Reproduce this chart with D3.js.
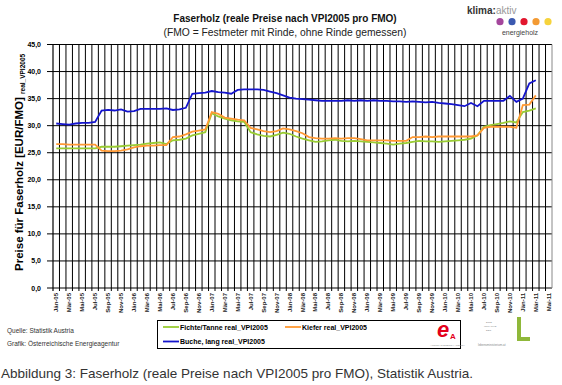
<html>
<head>
    <meta charset="utf-8">
    <title>Faserholz</title>
    <script src="https://d3js.org/d3.v7.min.js"></script>
    <style>
        body { margin: 0; background: #fff; }
        text { font-family: "Liberation Sans", Arial, sans-serif; }
    </style>
</head>
<body>
    <svg id="chart" width="562" height="385"></svg>

    <script>
        // monthly categories Jan-05 .. Mai-11 (axis), data runs to Mär-11
        var monthNames = ["Jän","Feb","Mär","Apr","Mai","Jun","Jul","Aug","Sep","Okt","Nov","Dez"];
        var years = ["05","06","07","08","09","10","11"];
        var lastMonthOnAxis = 4; // Mai-11
        var yTicks = [0, 5, 10, 15, 20, 25, 30, 35, 40, 45];

        // EUR/FMO real_VPI2005, Jan-05 .. Mär-11
        var fichte = [25.8,25.8,25.8,25.8,25.8,25.8,25.8,26.1,26.1,26.1,26.2,26.3,
                      26.4,26.5,26.7,26.8,26.9,26.6,27.3,27.4,27.6,28.2,28.5,28.8,
                      32.3,31.7,31.3,31.0,30.8,30.7,28.8,28.4,28.1,28.0,28.3,28.7,
                      28.5,28.0,27.6,27.3,27.0,27.1,27.3,27.4,27.2,27.1,27.2,27.1,
                      27.0,26.9,26.8,26.7,26.5,26.7,26.8,27.0,27.2,27.1,27.1,27.0,
                      27.1,27.2,27.3,27.4,27.6,28.2,29.8,30.1,30.3,30.5,30.8,30.6,
                      32.5,32.8,33.2];
        var kiefer = [26.6,26.6,26.5,26.5,26.5,26.5,26.5,25.4,25.3,25.3,25.4,25.6,
                      26.0,26.2,26.3,26.3,26.4,26.4,27.9,28.0,28.4,28.9,29.1,29.3,
                      32.5,32.2,31.5,31.3,31.1,31.0,29.6,29.3,29.0,28.8,29.0,29.5,
                      29.3,29.0,28.6,27.9,27.7,27.6,27.6,27.7,27.6,27.7,27.7,27.5,
                      27.3,27.3,27.3,27.3,27.2,27.2,27.2,27.9,27.9,28.0,27.9,28.0,
                      28.0,28.0,28.0,28.0,28.0,28.2,29.6,29.8,29.8,29.8,29.8,29.6,
                      33.8,33.9,35.6];
        var buche = [30.4,30.3,30.2,30.4,30.5,30.5,30.7,32.8,32.9,32.8,33.0,32.6,
                     32.7,33.1,33.1,33.1,33.1,33.2,32.9,33.0,33.3,35.9,36.0,36.1,
                     36.4,36.2,36.1,35.9,36.6,36.7,36.7,36.7,36.6,36.3,36.0,35.6,
                     35.2,35.0,34.9,34.8,34.7,34.6,34.6,34.6,34.6,34.7,34.6,34.7,
                     34.6,34.7,34.6,34.6,34.5,34.5,34.4,34.5,34.4,34.3,34.4,34.2,
                     34.1,34.0,33.8,33.6,34.2,33.6,34.6,34.6,34.6,34.6,35.5,34.4,
                     35.0,37.8,38.4];

        var seriesNames = ["Fichte/Tanne real_VPI2005", "Kiefer real_VPI2005", "Buche, lang real_VPI2005"];
        var seriesColors = ["#99cc33", "#ff9933", "#1414cc"];

        var months = [];
        years.forEach(function(yr, yi) {
            monthNames.forEach(function(m, mi) {
                if (yi < years.length - 1 || mi <= lastMonthOnAxis) months.push(m + "-" + yr);
            });
        });

        var svg = d3.select("#chart");
        var plotLeft = 53, plotRight = 552, plotTop = 44.5, plotBottom = 288;

        var x = d3.scaleBand().domain(months).range([plotLeft, plotRight]).padding(0);
        var y = d3.scaleLinear().domain([0, 45]).range([plotBottom, plotTop]);

        // titles
        svg.append("text").attr("x", 285).attr("y", 22).attr("text-anchor", "middle")
            .style("font-size", "10px").style("font-weight", "bold").style("fill", "#111")
            .text("Faserholz (reale Preise nach VPI2005 pro FMO)");
        svg.append("text").attr("x", 285).attr("y", 36).attr("text-anchor", "middle")
            .style("font-size", "10.3px").style("fill", "#222")
            .text("(FMO = Festmeter mit Rinde, ohne Rinde gemessen)");

        // klima:aktiv logo
        var logo = svg.append("text").attr("x", 467).attr("y", 14).style("font-size", "10px");
        logo.append("tspan").style("font-weight", "bold").style("fill", "#333").text("klima:");
        logo.append("tspan").style("fill", "#999").text("aktiv");
        var dotColors = ["#a4469c", "#3b59b0", "#e2162e", "#f39a33", "#f6d33c"];
        svg.selectAll("circle.dot").data(dotColors).enter().append("circle")
            .attr("class", "dot")
            .attr("cx", function(d, i) { return 500 + i * 12; })
            .attr("cy", 21.7).attr("r", 3.6)
            .style("fill", function(d) { return d; });
        svg.append("text").attr("x", 520).attr("y", 35).attr("text-anchor", "middle")
            .style("font-size", "7px").style("fill", "#444").text("energieholz");

        // grid
        var grid = svg.append("g");
        grid.selectAll("line.v").data(months.slice(1)).enter().append("line")
            .attr("class", "v")
            .attr("x1", function(d) { return x(d); }).attr("x2", function(d) { return x(d); })
            .attr("y1", plotTop).attr("y2", plotBottom + 3)
            .style("stroke", "#000").style("stroke-width", 1);
        grid.selectAll("line.h").data(yTicks).enter().append("line")
            .attr("class", "h")
            .attr("x1", plotLeft - 6).attr("x2", plotRight)
            .attr("y1", function(d) { return y(d); }).attr("y2", function(d) { return y(d); })
            .style("stroke", "#000").style("stroke-width", 1);

        // right frame
        svg.append("line").attr("x1", plotRight).attr("x2", plotRight).attr("y1", plotTop).attr("y2", plotBottom)
            .style("stroke", "#888").style("stroke-width", 1);
        // y axis line
        svg.append("line").attr("x1", plotLeft).attr("x2", plotLeft).attr("y1", plotTop).attr("y2", plotBottom + 3)
            .style("stroke", "#000").style("stroke-width", 1.2);

        // y tick labels
        svg.selectAll("text.ytick").data(yTicks).enter().append("text")
            .attr("class", "ytick")
            .attr("x", 41).attr("y", function(d) { return y(d) + 2.5; })
            .attr("text-anchor", "end")
            .style("font-size", "7px").style("font-weight", "bold")
            .text(function(d) { return d3.format(".1f")(d).replace(".", ","); });

        // x tick labels, every second month
        svg.selectAll("text.xtick").data(months.filter(function(d, i) { return i % 2 == 0; }))
            .enter().append("text")
            .attr("class", "xtick")
            .attr("transform", function(d) {
                return "translate(" + (x(d) + x.bandwidth() / 2 + 2) + "," + 293 + ") rotate(-90)";
            })
            .attr("text-anchor", "end")
            .style("font-size", "6px").style("font-weight", "bold").style("fill", "#222")
            .text(function(d) { return d; });

        // y axis title
        var yt = svg.append("text")
            .attr("transform", "translate(23,271) rotate(-90)")
            .style("font-size", "11.5px").style("font-weight", "bold");
        yt.append("tspan").text("Preise für Faserholz [EUR/FMO] ");
        yt.append("tspan").attr("dy", 2).style("font-size", "6.5px").text("real_VPI2005");

        // series lines
        var line = d3.line()
            .x(function(d, i) { return x(months[i]) + x.bandwidth() / 2; })
            .y(function(d) { return y(d); });

        [fichte, kiefer, buche].forEach(function(s, k) {
            svg.append("path")
                .attr("d", line(s))
                .style("fill", "none")
                .style("stroke", seriesColors[k])
                .style("stroke-width", 1.8);
        });

        // legend
        svg.append("rect").attr("x", 157.5).attr("y", 320.5).attr("width", 303).attr("height", 28)
            .style("fill", "#fff").style("stroke", "#000").style("stroke-width", 1);
        var legendPos = [[163, 327], [285, 327], [163, 341.5]];
        seriesNames.forEach(function(n, k) {
            var p = legendPos[k];
            svg.append("line").attr("x1", p[0]).attr("x2", p[0] + 16)
                .attr("y1", p[1]).attr("y2", p[1])
                .style("stroke", seriesColors[k]).style("stroke-width", 1.8);
            svg.append("text").attr("x", p[0] + 17).attr("y", p[1] + 2.5)
                .style("font-size", "7px").style("font-weight", "bold")
                .text(n);
        });

        // source notes
        svg.append("text").attr("x", 7).attr("y", 333).style("font-size", "6.5px").style("fill", "#333")
            .text("Quelle: Statistik Austria");
        svg.append("text").attr("x", 7).attr("y", 346).style("font-size", "6.5px").style("fill", "#333")
            .text("Grafik: Österreichische Energieagentur");

        // small partner logos
        svg.append("text").attr("x", 437).attr("y", 337).style("font-size", "22px")
            .style("font-style", "italic").style("font-weight", "bold").style("fill", "#e3001b").text("e");
        svg.append("text").attr("x", 450).attr("y", 339).style("font-size", "8px")
            .style("font-weight", "bold").style("fill", "#e3001b").text("A");
        svg.append("text").attr("x", 430).attr("y", 346).style("font-size", "2.5px").style("fill", "#888")
            .text("AUSTRIAN ENERGY AGENCY");
        svg.append("text").attr("x", 486).attr("y", 323).style("font-size", "2.5px").style("fill", "#888")
            .text("EINE");
        svg.append("text").attr("x", 484).attr("y", 327).style("font-size", "2.5px").style("fill", "#888")
            .text("INITIATIVE");
        svg.append("text").attr("x", 486).attr("y", 331).style("font-size", "2.5px").style("fill", "#888")
            .text("DES");
        svg.append("rect").attr("x", 517).attr("y", 317).attr("width", 4).attr("height", 24).style("fill", "#8fb83a");
        svg.append("rect").attr("x", 517).attr("y", 337).attr("width", 13).attr("height", 4).style("fill", "#8fb83a");
        svg.append("text").attr("x", 478).attr("y", 346).style("font-size", "3px").style("fill", "#888")
            .text("lebensministerium.at");

        // caption
        svg.append("text").attr("x", 1).attr("y", 378).style("font-size", "13.5px").style("fill", "#333")
            .text("Abbildung 3: Faserholz (reale Preise nach VPI2005 pro FMO), Statistik Austria.");
    </script>
</body>
</html>
